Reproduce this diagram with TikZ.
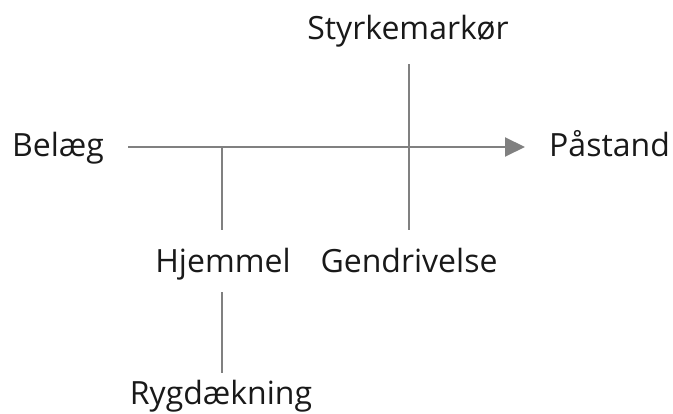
\documentclass[tikz,border=0pt]{standalone}
\usepackage{fontspec}
\setmainfont{Open Sans}
\usetikzlibrary{arrows.meta}
\begin{document}
\begin{tikzpicture}[x=1pt,y=-1pt,
  lbl/.style={inner sep=0pt, text height=22pt, text depth=2pt,
    font=\fontsize{32}{38}\selectfont, text=black!90},
  conn/.style={draw=black!50, line width=2pt},
  arrowconn/.style={conn, -{Triangle[length=20pt,width=19pt]}}]
  \useasboundingbox (0,0) rectangle (673,414);
  % labels of the argument model
  \node[lbl, anchor=west] (belaeg) at (12,147) {Belæg};
  \node[lbl, anchor=west] (paastand) at (549,147) {Påstand};
  \node[lbl, anchor=base] (styrke) at (408,40) {Styrkemarkør};
  \node[lbl, anchor=base] (hjemmel) at (223,273) {Hjemmel};
  \node[lbl, anchor=base] (gendriv) at (409,273) {Gendrivelse};
  \node[lbl, anchor=base] (ryg) at (221,405) {Rygdækning};
  % main line from data to claim
  \draw[arrowconn] ([xshift=116pt]belaeg.west) -- ([xshift=-24pt]paastand.west);
  % warrant and rebuttal branches
  \draw[conn, shorten <=21pt] ([xshift=-1pt]hjemmel.north) -- ([xshift=-1pt]hjemmel.north |- belaeg.east);
  \draw[conn, shorten <=22pt, shorten >=21pt] ([xshift=1pt]styrke.south) -- (gendriv.north);
  \draw[conn, shorten <=17pt, shorten >=10pt] ([xshift=-1pt]hjemmel.south) -- ([xshift=1pt]ryg.north);
\end{tikzpicture}
\end{document}
